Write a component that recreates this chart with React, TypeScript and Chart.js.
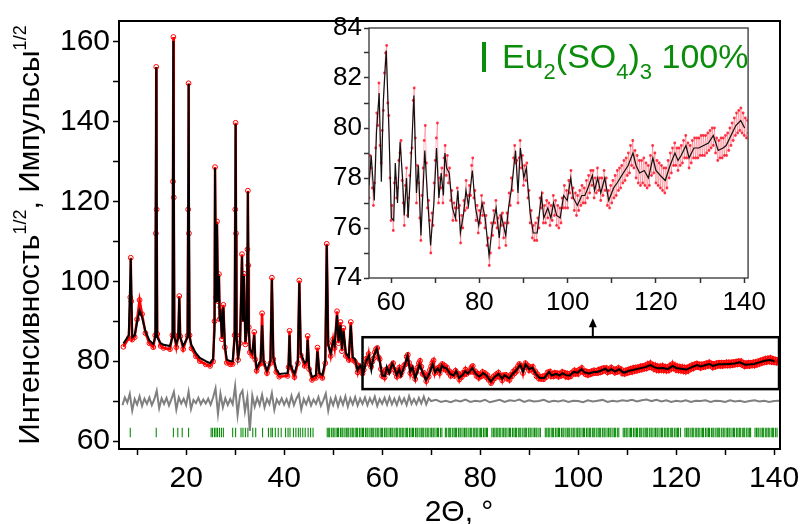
import React, { useEffect, useRef } from 'react';
import { Chart, registerables } from 'chart.js';
Chart.register(...registerables);

const FONT = "'Liberation Sans', Arial, Helvetica, sans-serif";
const GREEN = '#0b8c0b';

// ---------- DATA (2θ in degrees, intensity^1/2) ----------
// calculated profile (black line), knots
const calcPoints: [number, number][] = [
  [7.2, 84.4], [8.3, 86.5], [8.7, 105.7], [9.0, 86.0], [9.5, 86.5], [10.0, 89.8], [10.5, 92.7], [11.0, 91.0],
  [11.7, 87.5], [12.5, 85.2], [13.3, 84.3], [13.7, 86.0], [13.9, 153.6], [14.1, 86.0], [14.8, 84.5], [15.4, 84.1],
  [16.7, 83.8], [17.2, 86.0], [17.4, 160.2], [17.6, 86.0], [18.0, 84.3], [18.4, 86.0], [18.6, 95.9], [18.8, 86.0],
  [19.4, 83.8], [20.3, 86.0], [20.5, 149.4], [20.7, 86.0], [21.1, 84.0], [22.0, 82.0], [22.8, 80.8], [24.0, 80.0],
  [24.9, 79.5], [25.5, 80.5], [25.8, 88.0], [25.9, 128.3], [26.1, 95.0], [26.3, 114.3], [26.5, 95.0], [26.7, 101.3],
  [26.85, 90.0], [27.0, 93.0], [27.3, 86.0], [27.6, 93.5], [27.9, 84.0], [28.3, 80.4], [29.0, 80.0], [29.5, 80.0],
  [29.9, 86.0], [30.1, 139.4], [30.3, 86.0], [30.6, 81.0], [31.0, 84.0], [31.4, 106.2], [31.6, 90.0], [31.8, 101.3],
  [32.1, 84.8], [32.4, 88.0], [32.6, 122.4], [32.8, 88.0], [33.0, 83.0], [33.5, 82.0], [33.9, 86.5], [34.1, 81.0],
  [34.4, 78.3], [35.2, 80.0], [35.5, 89.0], [35.8, 80.0], [36.5, 77.7], [37.2, 80.0], [37.5, 100.4], [37.8, 81.0],
  [38.4, 78.0], [39.0, 76.8], [40.7, 77.0], [40.9, 79.0], [41.1, 86.5], [41.3, 79.0], [42.1, 76.8], [42.8, 80.0],
  [43.1, 99.6], [43.4, 82.0], [44.2, 79.5], [44.6, 80.0], [44.8, 85.3], [45.1, 78.5], [45.7, 76.0], [46.5, 76.5],
  [46.8, 82.4], [47.2, 77.0], [47.8, 76.5], [48.4, 80.0], [48.7, 109.0], [49.0, 84.0], [49.5, 82.0], [50.0, 85.0],
  [50.3, 84.0], [50.8, 91.5], [51.1, 85.0], [51.5, 89.0], [51.8, 83.0], [52.1, 87.5], [52.6, 82.0], [53.2, 81.0],
  [53.6, 89.0], [54.0, 81.0], [54.5, 80.5],
  [55.0, 77.7], [55.5, 78.9], [56.2, 77.1], [56.7, 79.85], [57.3, 81.4], [57.8, 77.85], [58.25, 81.1], [58.9, 83.1],
  [59.5, 80.0], [60.07, 76.4], [60.6, 76.3], [60.95, 78.6], [61.46, 77.0], [62.04, 79.45], [62.6, 78.0], [62.98, 76.5],
  [63.5, 78.0], [63.86, 76.4], [64.44, 78.3], [65.17, 81.3], [65.75, 77.4], [66.2, 78.5], [66.77, 75.7], [67.64, 79.1],
  [68.2, 77.4], [68.95, 75.3], [69.7, 77.0], [70.3, 79.2], [70.84, 77.2], [71.35, 78.2], [71.86, 77.3], [72.2, 79.0],
  [72.6, 78.4], [73.17, 78.2], [73.9, 76.8], [74.56, 76.4], [75.14, 77.5], [75.7, 75.8], [76.45, 76.6], [76.96, 77.5],
  [77.54, 76.9], [78.4, 78.3], [79.14, 76.8], [79.87, 76.1], [80.6, 77.0], [81.3, 76.4], [82.2, 74.9], [82.9, 76.0],
  [83.8, 76.8], [84.5, 75.6], [84.96, 76.5], [85.98, 75.7], [86.6, 76.8], [87.3, 77.6], [88.2, 79.1], [88.75, 77.4],
  [89.3, 79.2], [90.06, 78.0], [90.64, 78.4], [91.5, 76.6], [92.2, 75.8], [93.1, 75.8], [94.06, 77.3], [94.6, 76.4],
  [95.5, 76.8], [96.2, 76.4], [96.8, 77.0], [97.5, 76.5], [98.3, 76.4], [99.1, 77.3], [99.9, 77.1], [100.7, 78.0],
  [101.3, 77.2], [102.2, 76.9], [103.2, 77.3], [103.9, 77.3], [104.6, 77.6], [105.6, 78.1], [106.1, 77.5], [106.8, 78.0],
  [107.5, 77.4], [108.4, 78.0], [109.3, 77.1], [110.4, 77.6], [111.2, 77.8], [111.9, 78.0], [112.6, 78.2], [113.7, 78.5],
  [114.8, 79.0], [115.5, 78.5], [116.3, 78.2], [117.35, 78.3], [118.3, 78.0], [119.3, 78.8], [120.0, 78.3], [121.0, 78.1],
  [122.1, 77.9], [123.2, 78.5], [124.3, 79.0], [125.0, 78.7], [125.7, 78.9], [126.8, 79.3], [127.5, 78.8], [128.6, 79.2],
  [129.7, 79.2], [130.8, 79.3], [131.9, 79.4], [133.0, 79.7], [134.1, 79.1], [135.2, 79.2], [135.9, 79.3], [137.0, 79.7],
  [138.1, 80.1], [139.2, 80.3], [140.1, 80.0],
];

// observed (red circles), low-angle part
const obsLowPoints: [number, number][] = [
  [7.2, 83.6], [8.3, 85.8], [8.6, 96.0], [8.7, 105.9], [8.8, 95.0], [9.0, 85.4], [9.5, 86.0], [10.0, 90.5], [10.5, 95.3], [11.0, 91.8],
  [11.7, 87.0], [12.5, 84.5], [13.3, 83.5], [13.7, 86.5], [13.82, 112.0], [13.9, 153.7], [13.98, 118.0], [14.1, 86.8], [14.8, 83.8], [15.4, 83.3],
  [16.7, 83.0], [17.2, 86.5], [17.32, 125.0], [17.4, 161.2], [17.48, 121.0], [17.6, 86.5], [18.0, 83.5], [18.4, 86.3], [18.6, 96.3], [18.8, 86.2],
  [19.4, 83.0], [20.3, 86.4], [20.42, 118.0], [20.5, 149.6], [20.58, 112.0], [20.7, 86.5], [21.1, 83.2], [22.0, 81.2], [22.8, 80.0], [24.0, 79.2],
  [24.9, 78.8], [25.5, 79.9], [25.8, 90.0], [25.9, 128.6], [26.1, 96.0], [26.3, 115.0], [26.5, 95.0], [26.7, 101.8],
  [26.85, 90.5], [27.0, 93.5], [27.3, 85.5], [27.6, 94.1], [27.9, 83.5], [28.3, 79.6], [29.0, 79.2], [29.5, 79.3],
  [29.9, 86.5], [30.02, 118.0], [30.1, 139.7], [30.18, 112.0], [30.3, 86.5], [30.6, 80.3], [31.0, 84.5], [31.4, 106.8], [31.6, 90.5], [31.8, 101.9],
  [32.1, 84.2], [32.4, 88.5], [32.52, 108.0], [32.6, 122.7], [32.68, 104.0], [32.8, 88.5], [33.0, 82.2], [33.5, 81.3], [33.9, 87.3], [34.1, 80.4],
  [34.4, 77.6], [35.2, 79.4], [35.5, 92.0], [35.8, 79.6], [36.5, 77.0], [37.2, 79.5], [37.5, 100.9], [37.8, 80.5],
  [38.4, 77.3], [39.0, 76.1], [40.7, 76.3], [40.9, 78.5], [41.1, 87.6], [41.3, 78.5], [42.1, 76.0], [42.8, 79.5],
  [43.1, 100.2], [43.4, 81.5], [44.2, 78.8], [44.6, 79.5], [44.8, 86.3], [45.1, 78.0], [45.7, 75.3], [46.5, 75.8],
  [46.8, 83.4], [47.2, 76.5], [47.8, 75.8], [48.4, 79.5], [48.7, 109.4], [49.0, 84.5], [49.5, 81.3], [50.0, 85.5],
  [50.3, 83.3], [50.8, 92.5], [51.1, 84.5], [51.5, 89.8], [51.8, 82.5], [52.1, 88.3], [52.6, 81.3], [53.2, 80.3],
  [53.6, 89.8], [54.0, 80.3], [54.5, 79.8],
];

// observed, high-angle part on a 0.25° grid starting at 55°
const OBS_GRID_START = 55;
const OBS_GRID_STEP = 0.25;
const obsGridY = [
  77.2, 78.9, 78.4, 77.6, 76.9, 77.8, 79.2, 80.6, 80.1, 81.8, 79.3, 78.6, 79.9, 80.7, 82.2, 83.0,
  83.3, 81.0, 80.5, 78.0, 76.3, 76.9, 75.9, 77.8, 78.0, 77.2, 77.6, 78.7, 79.0, 79.5, 77.9, 77.0,
  76.1, 77.7, 78.4, 76.5, 77.2, 78.1, 79.0, 79.2, 81.1, 81.6, 79.6, 77.0, 78.5, 77.8, 76.4, 75.5,
  77.3, 78.4, 79.5, 80.1, 78.6, 76.8, 77.1, 76.3, 75.0, 76.6, 76.1, 77.8, 78.7, 79.6, 80.2, 77.0,
  78.0, 77.6, 78.4, 77.0, 78.8, 79.3, 78.1, 78.9, 77.8, 78.4, 77.1, 77.5, 76.3, 77.0, 76.8, 76.3,
  77.6, 76.8, 76.9, 75.4, 76.5, 76.0, 77.1, 76.7, 77.9, 76.8, 77.3, 77.7, 77.3, 78.5, 78.8, 77.2,
  77.5, 76.3, 76.9, 75.8, 76.7, 76.2, 77.3, 76.5, 77.0, 76.0, 76.5, 75.3, 75.6, 74.5, 75.0, 76.2,
  75.7, 76.7, 76.2, 77.1, 76.0, 76.4, 75.2, 76.5, 76.1, 76.6, 75.6, 76.2, 75.3, 76.6, 76.2, 77.4,
  76.9, 78.0, 77.5, 78.8, 79.3, 78.6, 78.7, 77.0, 78.8, 79.5, 78.4, 78.9, 77.7, 78.5, 77.9, 78.6,
  77.2, 77.5, 76.2, 76.7, 75.6, 76.1, 75.5, 76.2, 75.5, 76.4, 76.0, 77.2, 76.8, 77.4, 76.2, 76.9,
  76.2, 77.1, 76.4, 77.0, 76.1, 76.9, 76.3, 77.3, 76.5, 77.1, 76.1, 76.9, 76.0, 76.8, 76.2, 77.2,
  76.8, 77.7, 76.8, 77.5, 76.8, 77.9, 77.4, 78.3, 77.2, 77.6, 76.7, 77.4, 76.5, 77.3, 76.7, 77.5,
  76.9, 77.7, 77.0, 77.6, 77.0, 77.9, 77.2, 78.1, 77.4, 78.3, 77.7, 78.3, 77.2, 78.0, 77.4, 78.4,
  77.5, 78.0, 77.1, 78.0, 77.3, 78.3, 77.5, 78.0, 76.9, 77.5, 76.8, 77.7, 77.0, 77.9, 77.2, 78.1,
  77.3, 78.3, 77.5, 78.4, 77.6, 78.5, 77.8, 78.7, 77.9, 78.8, 78.1, 79.0, 78.2, 79.3, 78.5, 79.5,
  78.4, 79.1, 78.0, 78.9, 77.8, 78.7, 77.7, 78.7, 77.8, 78.8, 77.7, 78.6, 77.6, 78.5, 77.7, 78.9,
  78.1, 79.3, 78.2, 79.0, 77.8, 78.7, 77.7, 78.6, 77.6, 78.5, 77.5, 78.4, 77.4, 78.4, 77.6, 78.7,
  78.0, 79.0, 78.2, 79.2, 78.5, 79.4, 78.5, 79.2, 78.3, 79.2, 78.5, 79.3, 78.6, 79.5, 78.8, 79.7,
  78.8, 79.4, 78.4, 79.3, 78.6, 79.5, 78.8, 79.6, 78.8, 79.6, 78.8, 79.6, 78.9, 79.7, 78.9, 79.7,
  78.9, 79.7, 79.0, 79.8, 79.1, 79.9, 79.2, 80.0, 79.3, 80.0, 79.0, 79.6, 78.7, 79.5, 78.8, 79.6,
  78.8, 79.6, 78.9, 79.7, 78.9, 79.8, 79.1, 80.0, 79.3, 80.2, 79.5, 80.4, 79.7, 80.6, 79.8, 80.7,
  79.9, 80.8, 79.8, 80.6, 79.7, 80.4, 79.6, 80.3, 79.8,
];

// difference curve (grey): 0.5° grid from 7° to 69.5°, then 1° grid from 70° to 141°
const DIFF_LOW_START = 7;
const DIFF_LOW_STEP = 0.5;
const diffLowY = [
  69.0, 70.9, 69.6, 71.8, 67.6, 70.5, 69.1, 71.2, 68.8, 70.6, 69.3, 70.9, 69.0, 70.4, 72.6, 68.2,
  70.7, 69.3, 70.8, 68.9, 70.5, 72.3, 67.9, 70.9, 69.4, 70.6, 69.0, 72.4, 68.0, 70.3, 69.5, 70.8,
  69.2, 70.4, 69.4, 70.6, 69.1, 70.9, 73.2, 66.8, 71.9, 68.4, 70.7, 69.0, 70.5, 69.2, 73.8, 66.5,
  71.5, 72.6, 67.4, 71.0, 62.5, 71.4, 68.6, 70.8, 69.0, 71.6, 68.4, 70.5, 69.2, 72.0, 67.8, 70.4,
  69.3, 70.7, 69.1, 70.5, 68.8, 71.3, 69.0, 70.6, 71.8, 67.9, 70.5, 69.2, 70.9, 68.9, 70.4, 69.3,
  71.0, 68.8, 70.2, 71.9, 67.6, 70.6, 69.0, 71.0, 68.7, 70.8, 69.1, 71.2, 68.6, 70.7, 69.2, 71.0,
  68.9, 70.6, 69.3, 70.9, 69.0, 70.7, 69.4, 71.1, 68.8, 70.5, 69.3, 70.8, 69.1, 71.0, 69.2, 70.6,
  69.0, 70.9, 69.4, 70.7, 69.0, 71.2, 69.3, 70.5, 69.2, 70.8, 69.4, 71.1, 69.2, 70.7,
];
const DIFF_HIGH_START = 70;
const DIFF_HIGH_STEP = 1;
const diffHighY = [
  70.0, 70.3, 69.8, 70.1, 69.7, 70.2, 69.9, 70.4, 69.8, 70.1, 69.9, 70.3, 69.7, 70.0, 70.3, 69.8,
  70.2, 70.0, 70.4, 69.8, 70.2, 69.9, 70.0, 70.3, 69.8, 70.1, 69.9, 70.2, 69.8, 70.1, 70.0, 69.7,
  70.2, 69.9, 70.1, 70.3, 69.8, 70.1, 69.9, 70.2, 70.0, 70.3, 69.9, 70.2, 70.4, 70.0, 70.3, 69.9,
  70.2, 69.8, 70.1, 69.9, 70.2, 69.8, 70.1, 70.0, 70.2, 69.8, 70.1, 70.0, 69.8, 70.2, 69.9, 70.1,
  69.8, 70.0, 70.2, 69.9, 70.1, 69.8, 70.0, 70.1,
];

// Bragg reflection positions of Eu2(SO4)3 (green ticks)
const braggX = [
  8.6, 13.9, 17.4, 18.3, 19.2, 20.5, 25.1, 25.4, 25.8, 26.1, 26.4, 26.8, 27.2, 27.6, 29.5, 30.1, 31.2, 31.6,
  32.1, 32.6, 33.6, 34.2, 35.6, 36.8, 37.3, 37.6, 38.2, 38.8, 39.4, 40.3, 40.8, 41.2, 41.9, 42.4, 42.9, 43.3,
  43.8, 44.3, 44.9, 45.4, 45.9,
  48.8, 49.1, 49.3, 49.7, 50.0, 50.2, 50.6, 50.9, 51.1, 51.5, 51.8, 52.0, 52.4, 52.7, 53.0, 53.2, 53.6, 53.9,
  54.1, 54.5, 54.8, 55.0, 55.4, 55.7, 56.0, 56.2, 56.6, 56.9, 57.1, 57.5, 57.8, 58.1, 58.3, 58.7, 59.0, 59.2,
  59.6, 59.9, 60.1, 60.5, 60.8, 61.0, 61.4, 61.7, 62.0, 62.2, 62.6, 62.9, 63.1, 63.5, 63.8, 64.1, 64.3, 64.7,
  65.0, 65.2, 65.6, 65.9, 66.2, 66.4, 66.8, 67.1, 67.3, 67.7, 68.0, 68.3, 68.5, 68.9, 69.2, 69.4, 69.8, 70.1,
  70.4, 70.6, 71.0, 71.3, 71.5, 71.9, 72.2, 72.9, 73.1, 73.5, 73.8, 74.0, 74.4, 74.7, 75.0, 75.2, 75.6, 75.9,
  76.1, 76.5, 76.8, 77.1, 77.3, 77.7, 78.0, 78.2, 78.6, 78.9, 79.2, 79.4, 79.8, 80.1, 80.3, 80.7, 81.0, 81.3,
  81.5, 82.4, 82.7, 83.0, 83.3, 83.6, 83.9, 84.1, 84.5, 84.8, 85.1, 85.3, 85.7, 86.0, 86.2, 86.6, 86.9, 87.2,
  87.4, 87.8, 88.1, 88.3, 88.7, 89.0, 89.3, 89.5, 89.9, 90.2, 90.4, 90.8, 91.1, 91.4, 91.6, 92.0, 92.3, 93.3,
  93.6, 93.9, 94.1, 94.5, 94.8, 95.0, 95.4, 95.7, 96.0, 96.2, 96.6, 96.9, 97.1, 97.5, 97.8, 98.1, 98.3, 98.7,
  99.0, 99.2, 99.6, 99.9, 100.2, 100.4, 100.8, 101.1, 101.3, 101.7, 102.0, 102.3, 102.5, 102.9, 103.2, 103.4,
  103.8, 104.1, 104.4, 104.6, 105.0, 105.3, 105.5, 105.9, 106.2, 106.5, 106.7, 107.1, 107.4, 107.6, 108.0, 108.3,
  109.2, 109.5, 109.8, 110.0, 110.4, 110.7, 110.9, 111.3, 111.6, 111.9, 112.1, 112.5, 112.8, 113.0, 113.4, 113.7,
  114.0, 114.2, 114.6, 114.9, 115.1, 115.5, 115.8, 116.1, 116.3, 116.7, 117.0, 117.2, 117.6, 117.9, 118.2, 118.4,
  118.8, 119.1, 119.3, 119.7, 120.0, 120.3, 120.5, 120.9, 121.8, 122.1, 122.4, 122.6, 123.0, 123.3, 123.5, 123.9,
  124.2, 124.5, 124.7, 125.1, 125.4, 125.6, 126.0, 126.3, 126.6, 126.8, 127.2, 127.5, 127.7, 128.1, 128.4, 128.7,
  128.9, 129.3, 129.6, 129.8, 130.2, 130.5, 130.8, 131.0, 131.4, 131.7, 131.9, 132.3, 132.6, 132.9, 133.1, 133.5,
  133.8, 134.0, 134.4, 134.7, 135.0, 135.2, 136.1, 136.4, 136.7, 136.9, 137.3, 137.6, 137.8, 138.2, 138.5, 138.8,
  139.0, 139.4, 139.7, 139.9, 140.3, 140.6,
];
const BRAGG_LEVEL = 62.15;

// tick labels
const mainXLabels = [20, 40, 60, 80, 100, 120, 140];
const mainYLabels = [60, 80, 100, 120, 140, 160];
const insetXLabels = [60, 80, 100, 120, 140];
const insetYLabels = [74, 76, 78, 80, 82, 84];

// zoom box shown in the main plot and the arrow to the inset
const zoomBoxX = [56, 141];
const zoomBoxY = [73, 86];
const ARROW_X = 103;

// ---------- helpers ----------
const toXY = (p: [number, number][]) => p.map(([x, y]) => ({ x, y }));
const gridXY = (start: number, step: number, ys: number[]) => ys.map((y, i) => ({ x: +(start + i * step).toFixed(2), y }));

type Part = { t: string; size: number; dy?: number };
function drawRich(ctx: CanvasRenderingContext2D, parts: Part[], x0: number, baseline: number, align: 'left' | 'center') {
  const widths = parts.map((p) => {
    ctx.font = `${p.size}px ${FONT}`;
    return ctx.measureText(p.t).width;
  });
  const total = widths.reduce((a, b) => a + b, 0);
  let x = align === 'center' ? x0 - total / 2 : x0;
  ctx.textAlign = 'left';
  ctx.textBaseline = 'alphabetic';
  parts.forEach((p, i) => {
    ctx.font = `${p.size}px ${FONT}`;
    ctx.fillText(p.t, x, baseline + (p.dy || 0));
    x += widths[i];
  });
}

function axis(min: number, max: number, step: number, labels: number[], size: number, tickLen: number, pad: number, fit: (s: any) => void, tickColor = '#000') {
  return {
    type: 'linear',
    min,
    max,
    ticks: {
      stepSize: step,
      includeBounds: false,
      autoSkip: false,
      maxRotation: 0,
      minRotation: 0,
      color: '#000',
      padding: pad,
      font: { family: FONT, size },
      callback: (v: number) => (labels.includes(Math.round(v * 1000) / 1000) ? String(v) : ''),
    },
    grid: { drawOnChartArea: false, drawTicks: true, tickLength: tickLen, tickColor, tickWidth: 1.5 },
    border: { display: false },
    afterFit: fit,
  };
}

const mainDecor = {
  id: 'mainDecor',
  afterDraw(chart: any) {
    const { ctx, chartArea: a, scales } = chart;
    const x = scales.x;
    const y = scales.y;
    ctx.save();
    ctx.strokeStyle = '#000';
    ctx.lineWidth = 2;
    ctx.strokeRect(a.left, a.top, a.right - a.left, a.bottom - a.top);
    // zoom box
    const bx0 = x.getPixelForValue(zoomBoxX[0]);
    const bx1 = x.getPixelForValue(zoomBoxX[1]);
    const by0 = y.getPixelForValue(zoomBoxY[1]);
    const by1 = y.getPixelForValue(zoomBoxY[0]);
    ctx.lineWidth = 2.5;
    ctx.strokeRect(bx0, by0, bx1 - bx0, by1 - by0);
    // arrow
    const ax = x.getPixelForValue(ARROW_X);
    ctx.lineWidth = 2;
    ctx.beginPath();
    ctx.moveTo(ax, by0);
    ctx.lineTo(ax, by0 - 12);
    ctx.stroke();
    ctx.fillStyle = '#000';
    ctx.beginPath();
    ctx.moveTo(ax, by0 - 19);
    ctx.lineTo(ax - 4, by0 - 10);
    ctx.lineTo(ax + 4, by0 - 10);
    ctx.closePath();
    ctx.fill();
    // axis titles
    ctx.fillStyle = '#000';
    drawRich(ctx, [{ t: '2Θ, °', size: 30 }], 459, 521, 'center');
    ctx.translate(39, (a.top + a.bottom) / 2);
    ctx.rotate(-Math.PI / 2);
    drawRich(
      ctx,
      [
        { t: 'Интенсивность', size: 30 },
        { t: '1/2', size: 18, dy: -13 },
        { t: ', Импульсы', size: 30 },
        { t: '1/2', size: 18, dy: -13 },
      ],
      0,
      0,
      'center'
    );
    ctx.restore();
  },
};

const insetDecor = {
  id: 'insetDecor',
  beforeDraw(chart: any) {
    const { ctx, chartArea: a } = chart;
    ctx.save();
    ctx.fillStyle = '#fff';
    ctx.fillRect(a.left, a.top, a.right - a.left, a.bottom - a.top);
    ctx.restore();
  },
  afterDraw(chart: any) {
    const { ctx, chartArea: a } = chart;
    ctx.save();
    ctx.strokeStyle = '#333';
    ctx.lineWidth = 1.3;
    ctx.strokeRect(a.left, a.top, a.right - a.left, a.bottom - a.top);
    ctx.fillStyle = GREEN;
    ctx.fillRect(157, 32, 4, 30);
    drawRich(
      ctx,
      [
        { t: 'Eu', size: 34 },
        { t: '2', size: 22, dy: 11 },
        { t: '(SO', size: 34 },
        { t: '4', size: 22, dy: 11 },
        { t: ')', size: 34 },
        { t: '3', size: 22, dy: 11 },
        { t: ' 100%', size: 34 },
      ],
      177,
      58,
      'left'
    );
    ctx.restore();
  },
};

export default function App() {
  const mainRef = useRef<HTMLCanvasElement>(null);
  const insetRef = useRef<HTMLCanvasElement>(null);

  useEffect(() => {
    const calc = toXY(calcPoints);
    const obsGrid = gridXY(OBS_GRID_START, OBS_GRID_STEP, obsGridY);
    const obsAll = [...toXY(obsLowPoints), ...obsGrid];
    const diff = [...gridXY(DIFF_LOW_START, DIFF_LOW_STEP, diffLowY), ...gridXY(DIFF_HIGH_START, DIFF_HIGH_STEP, diffHighY)];
    const bragg = braggX.map((x) => ({ x, y: BRAGG_LEVEL }));

    const main = new Chart(mainRef.current as HTMLCanvasElement, {
      type: 'scatter',
      data: {
        datasets: [
          { label: 'calc', data: calc, showLine: true, borderColor: '#000', borderWidth: 2, pointRadius: 0, tension: 0 },
          {
            label: 'obs',
            data: obsAll,
            showLine: true,
            borderColor: '#ff0000',
            borderWidth: 2.5,
            pointRadius: 2.4,
            pointStyle: 'circle',
            pointBorderColor: '#ff0000',
            pointBackgroundColor: 'rgba(255,255,255,0)',
            pointBorderWidth: 1,
            tension: 0,
          },
          { label: 'diff', data: diff, showLine: true, borderColor: '#7f7f7f', borderWidth: 2, pointRadius: 0, tension: 0 },
          {
            label: 'bragg',
            data: bragg,
            showLine: false,
            pointStyle: 'line',
            rotation: 90,
            pointRadius: 4.7,
            pointBorderWidth: 1.1,
            borderColor: GREEN,
            pointBorderColor: GREEN,
            backgroundColor: GREEN,
          },
        ],
      } as any,
      options: {
        responsive: false,
        animation: false,
        events: [],
        layout: { padding: { top: 13, right: 28, left: 0, bottom: 0 } },
        plugins: { legend: { display: false }, tooltip: { enabled: false } },
        scales: {
          x: axis(6.3, 141.2, 10, mainXLabels, 30, 6, 6, (s: any) => { s.height = 75; }) as any,
          y: axis(58, 165.2, 10, mainYLabels, 30, 6, 3, (s: any) => { s.width = 119; }) as any,
        },
      } as any,
      plugins: [mainDecor],
    });

    const inset = new Chart(insetRef.current as HTMLCanvasElement, {
      type: 'scatter',
      data: {
        datasets: [
          { label: 'calc', data: calc, showLine: true, borderColor: '#111', borderWidth: 1.2, pointRadius: 0, tension: 0 },
          {
            label: 'obs',
            data: obsGrid,
            showLine: true,
            borderColor: 'rgba(255,40,60,0.35)',
            borderWidth: 1,
            pointRadius: 1.4,
            pointStyle: 'circle',
            pointBorderWidth: 0,
            pointBackgroundColor: 'rgba(255,20,40,0.85)',
            tension: 0,
          },
        ],
      } as any,
      options: {
        responsive: false,
        animation: false,
        events: [],
        layout: { padding: { top: 18, right: 7, left: 0, bottom: 0 } },
        plugins: { legend: { display: false }, tooltip: { enabled: false } },
        scales: {
          x: axis(55, 140.87, 10, insetXLabels, 26, 5, 4, (s: any) => { s.height = 37; }, '#333') as any,
          y: axis(74, 84, 1, insetYLabels, 26, 5, 2, (s: any) => { s.width = 44; }, '#333') as any,
        },
      } as any,
      plugins: [insetDecor],
    });

    return () => {
      main.destroy();
      inset.destroy();
    };
  }, []);

  return (
    <div style={{ position: 'absolute', left: 0, top: 0, width: 808, height: 524, background: '#fff', overflow: 'hidden' }}>
      <canvas ref={mainRef} width={808} height={524} style={{ position: 'absolute', left: 0, top: 0 }} />
      <canvas ref={insetRef} width={445} height={305} style={{ position: 'absolute', left: 325, top: 10 }} />
    </div>
  );
}
